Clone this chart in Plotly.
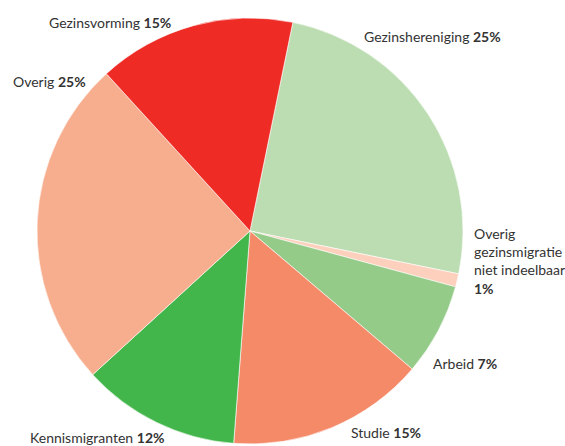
import plotly.graph_objects as go

W, H = 565, 446

labels = ["Gezinshereniging", "Overig gezinsmigratie niet indeelbaar", "Arbeid",
          "Studie", "Kennismigranten", "Overig", "Gezinsvorming"]
values = [25, 1, 7, 15, 12, 25, 15]
colors = ["#BBDDB1", "#FCD0BC", "#95CB88", "#F58A69", "#43B64B", "#F7AE8E", "#EE2B25"]

label_texts = ["Gezinshereniging <b>25%</b>",
               "Overig<br>gezinsmigratie<br>niet indeelbaar<br><b>1%</b>",
               "Arbeid <b>7%</b>",
               "Studie <b>15%</b>",
               "Kennismigranten <b>12%</b>",
               "Overig <b>25%</b>",
               "Gezinsvorming <b>15%</b>"]
# label anchor positions (left x, middle y) in pixels
label_pos = [(362, 36), (472, 261), (431, 363), (349, 432), (28, 437), (11, 82), (47, 22)]

cx, cy, r = 250, 231, 213

fig = go.Figure(go.Pie(
    labels=labels, values=values, sort=False, direction="clockwise", rotation=11.6,
    marker=dict(colors=colors, line=dict(color="white", width=0.6)),
    textinfo="none", hoverinfo="label+percent", showlegend=False,
    domain=dict(x=[(cx - r) / W, (cx + r) / W], y=[1 - (cy + r) / H, 1 - (cy - r) / H]),
))

for t, (x, y) in zip(label_texts, label_pos):
    fig.add_annotation(x=x / W, y=1 - y / H, xref="paper", yref="paper",
                       text=t, showarrow=False, xanchor="left", yanchor="middle",
                       align="left", font=dict(family="Lato, sans-serif", size=14, color="#333333"))

fig.update_layout(width=W, height=H, margin=dict(l=0, r=0, t=0, b=0),
                  paper_bgcolor="white", plot_bgcolor="white")
fig.write_html("out.html", config={"displayModeBar": False},
               post_script="document.body.style.margin='0';document.body.style.overflow='hidden';")
